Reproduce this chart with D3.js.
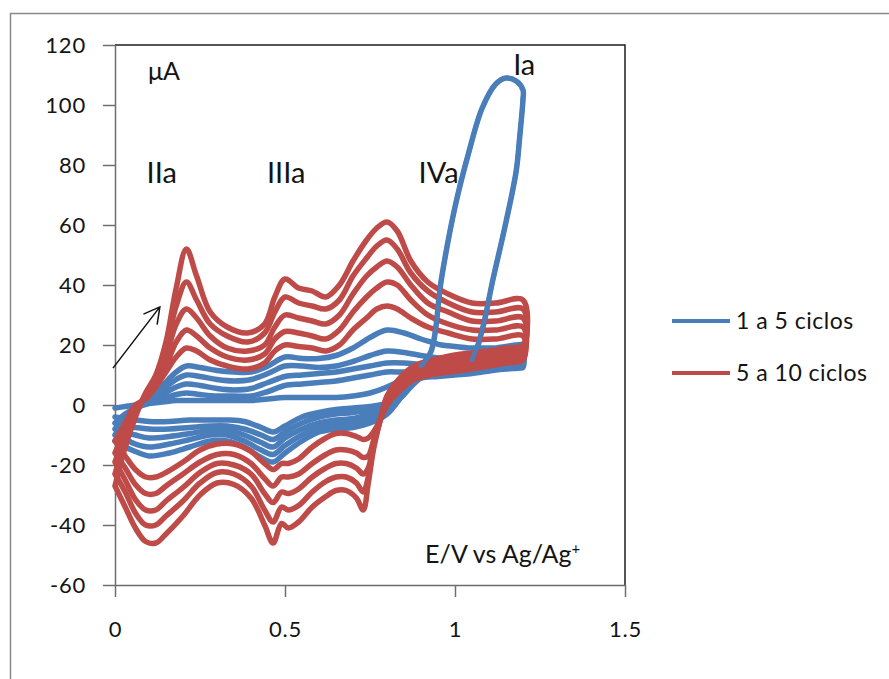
<!DOCTYPE html>
<html><head><meta charset="utf-8">
<script src="https://cdn.jsdelivr.net/npm/d3@7"></script>
<style>
body{margin:0;background:#fff}
svg{display:block}
text{font-family:Lato,"Open Sans",sans-serif;fill:#141414}
</style>
</head><body>
<svg id="c" width="889" height="679"></svg>
<script>
// ---------------- data ----------------
const xTicks = [0, 0.5, 1, 1.5];
const xTickLabels = ["0", "0.5", "1", "1.5"];
const yTicks = [-60, -40, -20, 0, 20, 40, 60, 80, 100, 120];
const yTickLabels = ["-60", "-40", "-20", "0", "20", "40", "60", "80", "100", "120"];
const seriesNames = ["1 a 5 ciclos", "5 a 10 ciclos"];

// blue cycles (1 to 5): potential grids, V
const blueFwdE = [0, 0.03, 0.06, 0.1, 0.14, 0.18, 0.21, 0.25, 0.3, 0.35, 0.4, 0.45, 0.5, 0.55, 0.6, 0.65, 0.7, 0.75, 0.8, 0.85, 0.9, 0.93, 0.96, 1.0, 1.04, 1.08, 1.12, 1.15, 1.18, 1.2];
const blueRevE = [1.2, 1.19, 1.18, 1.15, 1.11, 1.08, 1.05, 1.0, 0.95, 0.9, 0.87, 0.84, 0.8, 0.75, 0.7, 0.65, 0.6, 0.55, 0.5, 0.465, 0.43, 0.38, 0.33, 0.28, 0.22, 0.16, 0.1, 0.06, 0.03, 0];
// currents, µA
const blue1Fwd = [-1, -0.5, 0, 0.5, 1, 1.5, 1.5, 1.5, 1.5, 1.5, 1.5, 2, 2.5, 2.5, 2.5, 2.5, 3, 4, 6, 9, 13, 18, 42, 66, 84, 99, 107, 109, 108, 105];
const blue1Rev = [102, 89, 78, 61, 41, 25, 15, 11, 10, 9, 6, 2.5, 0.5, -0.5, -1, -1.5, -2.5, -4, -7, -9, -7.5, -5.5, -5, -5, -5, -5.5, -5.5, -5, -4.5, -4];
const blue2Fwd = [-6, -3, -1, 0.5, 2, 3.5, 4, 3.5, 3, 3, 3, 4.5, 6.5, 7, 7.5, 8, 9, 10, 11, 11, 11.5, 12, 12, 12.5, 13, 13, 13.5, 14, 14, 14.5];
const blue2Rev = [12.5, 12.3, 12.2, 12, 11.5, 11, 10.5, 10, 9.5, 9, 7, 3, 0, -1.5, -2.5, -3, -4, -6, -9, -11.5, -10, -8, -7, -7, -7.5, -8, -8, -7.5, -7, -6];
const blue3Fwd = [-8, -4, -1, 1, 3.5, 6, 7, 6.5, 5.5, 5, 5.5, 7.5, 9.5, 10, 10.5, 11, 12, 13, 14, 14, 13.5, 13.5, 13.5, 14, 14, 14.5, 15, 15, 15.5, 15.5];
const blue3Rev = [13, 12.8, 12.6, 12.3, 12, 11.5, 11, 10.5, 10, 9.5, 7, 2.5, -1, -3, -4.5, -5, -6, -8, -11, -14, -12.5, -10, -8.5, -8.5, -9.5, -10.5, -11, -10, -9, -8];
const blue4Fwd = [-10, -5, -1.5, 1.5, 5, 8.5, 10, 9.5, 8.5, 8, 8.5, 10.5, 13, 13, 12.5, 13, 14.5, 16.5, 18, 17.5, 16.5, 16, 15.5, 15.5, 15.5, 16, 16, 16.5, 17, 17];
const blue4Rev = [13.5, 13.3, 13, 12.7, 12.3, 12, 11.5, 11, 10.5, 10, 7.5, 2.5, -2, -4.5, -6, -6.5, -7.5, -10, -13.5, -16.5, -15, -12, -10, -10, -11.5, -13, -14, -13, -11.5, -10];
const blue5Fwd = [-12, -6, -2, 2, 6.5, 11, 13, 12.5, 11.5, 11, 11, 13, 16, 15.5, 15.5, 16.5, 19, 22.5, 25, 24, 22, 21, 20, 19.5, 19, 19, 19, 19.5, 20, 20];
const blue5Rev = [14, 13.8, 13.5, 13.2, 12.8, 12.5, 12, 11.5, 11, 10.5, 8, 2.5, -3, -6, -7.5, -8, -9, -12, -16, -19, -17.5, -14, -12, -12, -14, -16, -17, -15.5, -14, -12];

// red cycles (6 to 10)
const redFwdE = [0, 0.03, 0.06, 0.09, 0.12, 0.15, 0.18, 0.21, 0.24, 0.28, 0.33, 0.39, 0.44, 0.47, 0.50, 0.54, 0.58, 0.62, 0.66, 0.70, 0.74, 0.77, 0.80, 0.83, 0.87, 0.92, 0.98, 1.05, 1.12, 1.20];
const redRevE = [1.20, 1.15, 1.10, 1.02, 0.95, 0.88, 0.83, 0.80, 0.78, 0.76, 0.745, 0.73, 0.71, 0.68, 0.65, 0.62, 0.58, 0.54, 0.51, 0.49, 0.465, 0.44, 0.40, 0.35, 0.30, 0.25, 0.20, 0.15, 0.12, 0.09, 0.06, 0.03, 0];
const red6Fwd = [-12, -6, 0, 2, 6, 11, 16, 19, 18, 15, 13, 12, 14, 18, 20, 19.5, 19, 18, 20, 25, 29, 32, 33, 32, 29, 26, 24, 22, 22, 23];
const red6Rev = [15, 14, 13, 11.5, 10.5, 8.5, 4, 0, -5, -9, -11, -11.5, -10.5, -9.5, -9.5, -11, -14, -18, -19.5, -19.5, -21.5, -19.5, -15.5, -13, -13, -15, -19, -22.5, -24, -24, -21.5, -17, -12];
const red7Fwd = [-16, -8, -1, 2.5, 7, 13, 21, 25, 23, 19, 16, 15, 17, 22, 24.5, 24, 23, 22, 25, 31, 36, 39, 41, 40, 35, 30, 27, 25, 25, 26];
const red7Rev = [16, 15, 14, 12.5, 11.5, 9.5, 5, 1, -5, -12, -17, -17.5, -16, -15, -15, -16.5, -19.5, -23, -24, -24, -27, -24.5, -19.5, -16.5, -16.5, -19, -23, -27, -29.5, -29.5, -26.5, -21, -16];
const red8Fwd = [-19, -10, -2, 3, 8, 16, 27, 32, 29, 23, 19, 18, 20, 26, 30, 29, 28, 27, 30, 37, 43, 46, 48, 46, 40, 34, 31, 28, 28, 29];
const red8Rev = [17.5, 16.5, 15.5, 14, 12.5, 10.5, 6, 2, -5, -13, -21, -23, -21, -19.5, -19.5, -21, -24, -28, -29.5, -29, -32.5, -29.5, -23, -20, -19.5, -22.5, -27.5, -32, -35, -35, -31.5, -25, -19];
const red9Fwd = [-23, -12, -3, 3.5, 9, 19, 33, 41, 35, 27, 23, 21, 24, 31, 36, 34, 33, 32, 35, 43, 49, 53, 55, 52, 44, 38, 34, 31, 31, 32];
const red9Rev = [19, 18, 17, 15.5, 14, 12, 7, 2.5, -5, -14, -24, -29, -26, -24, -24, -25.5, -29, -33.5, -35, -34, -39, -35, -27, -23, -22.5, -26, -32, -37, -40, -40, -36, -29, -23];
const red10Fwd = [-27, -14, -4, 4, 10, 21, 39, 52, 43, 31, 26, 24, 27, 36, 42, 39, 38, 36, 40, 48, 55, 59, 61, 58, 48, 41, 37, 34, 34, 35];
const red10Rev = [20, 19, 18, 17, 15.5, 13, 8, 3, -5, -15, -26, -35, -31, -28.5, -28.5, -30.5, -34, -39, -41, -39.5, -46, -40, -31, -26.5, -26, -30, -37, -43, -46, -45.5, -41, -34, -27];

// annotation anchors in data units (E, I)
const peakLabels = [
  {t: "μA", e: 0.097, i: 108.5, s: 25},
  {t: "IIa", e: 0.093, i: 74, s: 29},
  {t: "IIIa", e: 0.447, i: 74, s: 29},
  {t: "IVa", e: 0.893, i: 74, s: 29},
  {t: "Ia", e: 1.171, i: 110, s: 29}
];
const arrowFrom = [-0.006, 12.3];
const arrowTo = [0.132, 32.7];

// ---------------- drawing ----------------
const svg = d3.select("#c");
const x = d3.scaleLinear().domain([0, 1.5]).range([115, 625]);
const y = d3.scaleLinear().domain([-60, 120]).range([585, 45]);
const BLUE = "#4a7ebb", RED = "#be4b48";
const LW = 5.5;

// chart area frame
svg.append("rect").attr("x", 10.5).attr("y", 13.5).attr("width", 900).attr("height", 700)
  .attr("fill", "#fff").attr("stroke", "#8a8a8a").attr("stroke-width", 1.5);

// plot area border (top/right)
svg.append("path")
  .attr("d", `M${x(0)},${y(120)}H${x(1.5)}V${y(-60)}`)
  .attr("fill", "none").attr("stroke", "#1e1e1e").attr("stroke-width", 1.5);

const gy = svg.append("g").attr("transform", `translate(${x(0)},0)`)
  .call(d3.axisLeft(y).tickValues(yTicks).tickFormat((d, i) => yTickLabels[i]).tickSize(12).tickPadding(17).tickSizeOuter(0));
const gx = svg.append("g").attr("transform", `translate(0,${y(-60)})`)
  .call(d3.axisBottom(x).tickValues(xTicks).tickFormat((d, i) => xTickLabels[i]).tickSize(12).tickPadding(24).tickSizeOuter(0));
[gy, gx].forEach(g => {
  g.select(".domain").attr("stroke", "#6e6e6e").attr("stroke-width", 1.5);
  g.selectAll(".tick line").attr("stroke", "#6e6e6e").attr("stroke-width", 1.5);
  g.selectAll(".tick text").style("font-size", "22px").style("letter-spacing", "0.8px").attr("fill", "#141414");
});

const line = d3.line().x(d => x(d[0])).y(d => y(d[1])).curve(d3.curveCatmullRom.alpha(0.5));
const cyc = (fe, fv, re, rv) => fe.map((e, k) => [e, fv[k]]).concat(re.map((e, k) => [e, rv[k]]));

const blueCycles = [
  cyc(blueFwdE, blue1Fwd, blueRevE, blue1Rev),
  cyc(blueFwdE, blue2Fwd, blueRevE, blue2Rev),
  cyc(blueFwdE, blue3Fwd, blueRevE, blue3Rev),
  cyc(blueFwdE, blue4Fwd, blueRevE, blue4Rev),
  cyc(blueFwdE, blue5Fwd, blueRevE, blue5Rev)
];
const redCycles = [
  cyc(redFwdE, red6Fwd, redRevE, red6Rev),
  cyc(redFwdE, red7Fwd, redRevE, red7Rev),
  cyc(redFwdE, red8Fwd, redRevE, red8Rev),
  cyc(redFwdE, red9Fwd, redRevE, red9Rev),
  cyc(redFwdE, red10Fwd, redRevE, red10Rev)
];

const gLines = svg.append("g").attr("fill", "none").attr("stroke-linejoin", "round").attr("stroke-linecap", "round");
gLines.selectAll("path.b").data(blueCycles).join("path").attr("class", "b")
  .attr("d", line).attr("stroke", BLUE).attr("stroke-width", LW);
gLines.selectAll("path.r").data(redCycles).join("path").attr("class", "r")
  .attr("d", line).attr("stroke", RED).attr("stroke-width", LW);
// the Ia loop of cycle 1 lies over the later cycles
const iaLoop = blueCycles[0].filter((p, k) => (k < blueFwdE.length && p[0] >= 0.9) || (k >= blueFwdE.length && p[0] >= 1.05));
gLines.append("path").datum(iaLoop).attr("d", line).attr("stroke", BLUE).attr("stroke-width", LW - 1);

// peak labels
svg.selectAll("text.pk").data(peakLabels).join("text").attr("class", "pk")
  .attr("x", d => x(d.e)).attr("y", d => y(d.i)).style("font-size", d => d.s + "px").text(d => d.t);

// axis title inside plot
const ev = svg.append("text").attr("x", x(0.912)).attr("y", y(-52.7)).style("font-size", "25px");
ev.append("tspan").text("E/V vs Ag/Ag");
ev.append("tspan").attr("dy", -9).style("font-size", "15px").text("+");

// arrow
const ax1 = x(arrowFrom[0]), ay1 = y(arrowFrom[1]), ax2 = x(arrowTo[0]), ay2 = y(arrowTo[1]);
const ang = Math.atan2(ay2 - ay1, ax2 - ax1), hl = 18, ha = 0.5;
svg.append("path")
  .attr("d", `M${ax1},${ay1}L${ax2},${ay2}M${ax2 - hl * Math.cos(ang - ha)},${ay2 - hl * Math.sin(ang - ha)}L${ax2},${ay2}L${ax2 - hl * Math.cos(ang + ha)},${ay2 - hl * Math.sin(ang + ha)}`)
  .attr("fill", "none").attr("stroke", "#111").attr("stroke-width", 1.5);

// legend
const lg = svg.append("g");
[BLUE, RED].forEach((c, k) => {
  const yy = 321 + k * 52;
  lg.append("line").attr("x1", 672).attr("x2", 730).attr("y1", yy).attr("y2", yy)
    .attr("stroke", c).attr("stroke-width", 4);
  lg.append("text").attr("x", 736).attr("y", yy + 8).style("font-size", "23px").style("letter-spacing", "0.5px").text(seriesNames[k]);
});
</script>
</body></html>
